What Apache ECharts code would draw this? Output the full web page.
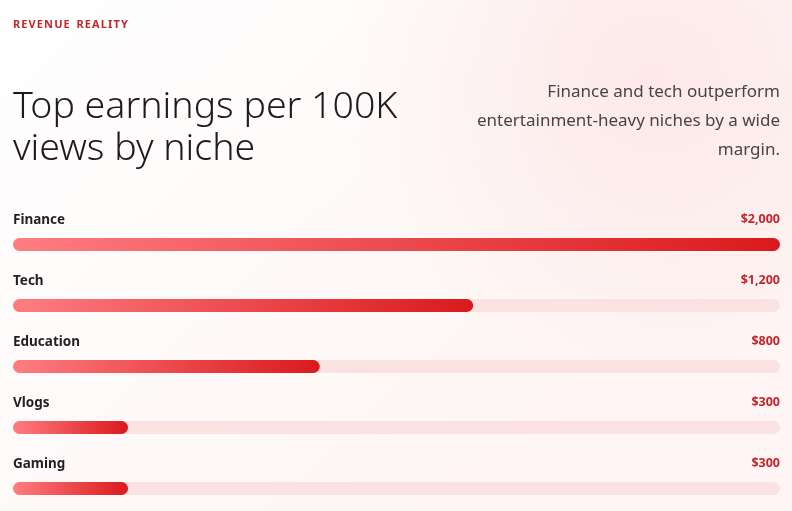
<!DOCTYPE html>
<html lang="en">
<head>
<meta charset="utf-8">
<title>Top earnings per 100K views by niche</title>
<script src="https://cdn.jsdelivr.net/npm/echarts@6/dist/echarts.min.js"></script>
<style>
  html, body { margin: 0; padding: 0; background: #fff; }
  #chart { width: 792px; height: 511px; }
</style>
</head>
<body>
<div id="chart"></div>
<script>
// niches and top earnings per 100K views (USD)
var niches = ['Finance', 'Tech', 'Education', 'Vlogs', 'Gaming'];
var earnings = [2000, 1200, 800, 300, 300];
var maxValue = 2000;

var chart = echarts.init(document.getElementById('chart'));
var font = '"Noto Sans", sans-serif';

function money(v) {
  return '$' + v.toLocaleString('en-US');
}

var barGrad = new echarts.graphic.LinearGradient(0, 0, 1, 0, [
  { offset: 0, color: '#fe7d81' },
  { offset: 0.5, color: '#ec4a4e' },
  { offset: 1, color: '#da1a1c' }
]);

var option = {
  backgroundColor: '#fff',
  animation: false,
  graphic: [
    // soft page wash
    {
      type: 'rect', z: -10, silent: true,
      shape: { x: 0, y: 0, width: 792, height: 511 },
      style: {
        fill: new echarts.graphic.LinearGradient(0, 0, 0.6, 1, [
          { offset: 0, color: '#ffffff' },
          { offset: 1, color: '#fef5f4' }
        ])
      }
    },
    {
      type: 'rect', z: -9, silent: true,
      shape: { x: 0, y: 0, width: 792, height: 511 },
      style: {
        fill: new echarts.graphic.RadialGradient(0.82, 0.15, 0.6, [
          { offset: 0, color: 'rgba(252,226,226,0.7)' },
          { offset: 1, color: 'rgba(252,226,226,0)' }
        ])
      }
    },
    {
      type: 'text', x: 13, y: 19,
      style: { text: 'R E V E N U E   R E A L I T Y'.replace(/ (?! )/g, '\u200a'), fill: '#c1272d', font: 'bold 11px ' + font }
    },
    {
      type: 'text', x: 13, y: 86,
      style: { text: 'Top earnings per 100K\nviews by niche', fill: '#1d1b1d', font: '300 37.5px ' + font, lineHeight: 42 }
    },
    {
      type: 'text', x: 780, y: 78,
      style: {
        text: 'Finance and tech outperform\nentertainment-heavy niches by a wide\nmargin.',
        fill: '#4a4448', font: '17px ' + font, lineHeight: 29, align: 'right'
      }
    }
  ],
  // category ticks sit on the bar centres (244.5 ... 488.5)
  grid: { left: 13, right: 12, top: 244.5, bottom: 22.5, containLabel: false },
  xAxis: { type: 'value', min: 0, max: maxValue, show: false },
  yAxis: {
    type: 'category', data: niches, inverse: true, show: false, boundaryGap: false
  },
  series: [
    {
      type: 'bar', barWidth: 13, barGap: '-100%', silent: true,
      data: niches.map(function () { return maxValue; }),
      itemStyle: { color: '#fbe2e2', borderRadius: 6.5 },
      label: {
        show: true, position: 'insideTopRight', distance: 0, offset: [0, -25],
        formatter: function (p) { return money(earnings[p.dataIndex]); },
        color: '#c1272d', fontFamily: font, fontWeight: 'bold', fontSize: 12.5
      }
    },
    {
      type: 'bar', barWidth: 13, silent: true,
      data: earnings,
      itemStyle: { color: barGrad, borderRadius: 6.5 },
      label: {
        show: true, position: 'insideTopLeft', distance: 0, offset: [0, -25],
        formatter: function (p) { return niches[p.dataIndex]; },
        color: '#231f22', fontFamily: font, fontWeight: 'bold', fontSize: 13.5
      }
    }
  ]
};

chart.setOption(option);
</script>
</body>
</html>
